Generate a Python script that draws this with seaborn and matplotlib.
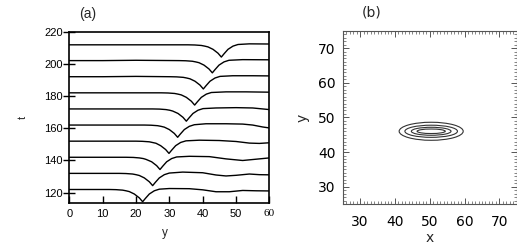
import numpy as np
import pandas as pd
import matplotlib
matplotlib.use("Agg")
import matplotlib.pyplot as plt
from matplotlib.patches import Ellipse
from matplotlib.ticker import MultipleLocator
import seaborn as sns

# ---- panel (a): wave profiles at successive times ----
y1 = [0, 10, 12, 14, 16, 17, 18, 19.5, 21, 22, 22.8, 24, 25.5, 27, 30, 36, 40, 44, 48, 52, 56, 60]
t1 = [122, 122, 122, 121.9, 121.6, 121.2, 120.7, 119.2, 116.8, 114.4, 116.4, 119.2, 121.2, 122.2, 122.6, 122.5, 121.8, 120.6, 120.6, 121.4, 121.2, 121.1]
y2 = [0, 10, 15, 17, 19, 20, 21, 22.5, 24, 25, 25.8, 27, 28.5, 30, 34, 40, 44, 47, 50, 54, 57, 60]
t2 = [132, 132, 132, 131.9, 131.6, 131.2, 130.7, 129.2, 126.8, 124.4, 126.4, 129.2, 131.2, 132.2, 132.8, 132.4, 131, 130.4, 130.8, 131.6, 131.2, 131.1]
y3 = [0, 10, 17, 19.2, 21, 22.2, 23, 24.7, 26.2, 27.2, 28, 29.2, 30.7, 32.2, 36, 42, 47, 52, 56, 60]
t3 = [142, 142, 142, 141.9, 141.6, 141.2, 140.7, 139.2, 136.8, 134.4, 136.4, 139.2, 141.2, 142.2, 142.6, 142.4, 141, 140, 140.8, 141.6]
y4 = [0, 10, 20, 21.9, 24, 24.9, 26, 27.4, 28.9, 29.9, 30.7, 31.9, 33.4, 35, 39, 45, 50, 54, 57, 60]
t4 = [152, 152, 152, 151.9, 151.6, 151.2, 150.7, 149.2, 146.8, 144.4, 146.4, 149.2, 151.2, 152.2, 152.6, 152.4, 151.8, 150.8, 150.6, 151]
y5 = [0, 10, 22.5, 24.5, 26.5, 27.5, 28.5, 30, 31.5, 32.5, 33.3, 34.5, 36, 37.5, 41, 47, 52, 55, 58, 60]
t5 = [162, 162, 162, 161.9, 161.6, 161.2, 160.7, 159.2, 156.8, 154.4, 156.4, 159.2, 161.2, 162.2, 162.8, 162.8, 162.6, 162, 160.8, 160.2]
y6 = [0, 10, 25, 27.1, 29, 30.1, 31, 32.6, 34.1, 35.1, 35.9, 37.1, 38.6, 40.1, 44, 50, 55, 58, 60]
t6 = [172, 172, 172, 171.9, 171.6, 171.2, 170.7, 169.2, 166.8, 164.4, 166.4, 169.2, 171.2, 172.2, 172.6, 172.8, 172.6, 172, 171.6]
y7 = [0, 10, 27.6, 29.6, 31.6, 32.6, 33.6, 35.1, 36.6, 37.6, 38.4, 39.6, 41.1, 42.6, 47, 53, 60]
t7 = [182, 182, 182, 181.9, 181.6, 181.2, 180.7, 179.2, 176.8, 174.4, 176.4, 179.2, 181.2, 182.2, 182.6, 182.6, 182.4]
y8 = [0, 10, 20, 30.2, 32.2, 34.2, 35.2, 36.2, 37.7, 39.2, 40.2, 41, 42.2, 43.7, 45.2, 49, 55, 60]
t8 = [192, 192, 192.2, 192, 191.9, 191.6, 191.2, 190.7, 189.2, 186.8, 184.4, 186.4, 189.2, 191.2, 192.2, 192.6, 192.6, 192.5]
y9 = [0, 10, 20, 32.9, 34.9, 36.9, 37.9, 38.9, 40.4, 41.9, 42.9, 43.7, 44.9, 46.4, 47.9, 52, 60]
t9 = [202, 202, 202.2, 202, 201.9, 201.6, 201.2, 200.7, 199.2, 196.8, 194.4, 196.4, 199.2, 201.2, 202.2, 202.6, 202.5]
y10 = [0, 10, 20, 35.6, 37.6, 39.6, 40.6, 41.6, 43.1, 44.6, 45.6, 46.4, 47.6, 49.1, 50.6, 54, 60]
t10 = [211.8, 211.8, 211.8, 211.8, 211.7, 211.4, 211.0, 210.5, 209, 206.6, 204.2, 206.2, 209, 211, 212, 212.4, 212.3]

a_xticks = [0, 10, 20, 30, 40, 50, 60]
a_yticks = [120, 140, 160, 180, 200, 220]

# ---- panel (b): contour rings (centre, full widths, full heights) ----
ring_cx, ring_cy = 50.4, 46.0
ring_w = [18.4, 15.1, 11.4, 8.1]
ring_h = [5.2, 3.5, 2.3, 1.3]
b_ticks = [30, 40, 50, 60, 70]

curves = [(y1, t1), (y2, t2), (y3, t3), (y4, t4), (y5, t5),
          (y6, t6), (y7, t7), (y8, t8), (y9, t9), (y10, t10)]
df = pd.concat([pd.DataFrame({"y": yy, "t": tt, "curve": i})
                for i, (yy, tt) in enumerate(curves)], ignore_index=True)

sns.set_style("white")
plt.rcParams['font.family'] = ['Liberation Sans', 'DejaVu Sans']

fig = plt.figure(figsize=(5.17, 2.45), dpi=100)
ax1 = fig.add_axes([0.134, 0.170, 0.387, 0.701])
ax2 = fig.add_axes([0.663, 0.167, 0.3366, 0.7076])

# panel (a)
sns.lineplot(data=df, x="y", y="t", units="curve", estimator=None, sort=False,
             color="black", lw=1.0, ax=ax1, legend=False)
ax1.set_xlim(0, 60)
ax1.set_ylim(113.4, 220)
ax1.set_xticks(a_xticks)
ax1.set_yticks(a_yticks)
ax1.tick_params(axis="y", direction="inout", length=9, width=1, pad=0,
                labelsize=8, left=True, colors="black")
ax1.tick_params(axis="x", direction="in", length=5, width=1, pad=4,
                labelsize=8, bottom=True, colors="black")
labs = ax1.get_xticklabels()
labs[-1].set_fontfamily("Liberation Serif")
for sp in ax1.spines.values():
    sp.set_visible(True)
    sp.set_color("black")
    sp.set_linewidth(1.2)
ax1.set_xlabel("y", fontsize=8.5)
ax1.set_ylabel("t", fontsize=8, labelpad=12)
ax1.xaxis.set_label_coords(0.48, -0.135)

# panel (b)
for w, h in zip(ring_w, ring_h):
    ax2.add_patch(Ellipse((ring_cx, ring_cy), w, h, fill=False,
                          edgecolor="#333333", lw=0.8))
ax2.set_xlim(25, 75)
ax2.set_ylim(25, 75)
ax2.set_xticks(b_ticks)
ax2.set_yticks(b_ticks)
ax2.xaxis.set_minor_locator(MultipleLocator(1))
ax2.yaxis.set_minor_locator(MultipleLocator(1))
ax2.tick_params(which="major", direction="in", length=4, width=0.7,
                top=True, right=True, bottom=True, left=True,
                colors="#555555", labelcolor="black", labelsize=10)
ax2.tick_params(which="minor", direction="in", length=2, width=0.5,
                top=True, right=True, bottom=True, left=True, colors="#555555")
ax2.tick_params(axis="x", pad=8)
ax2.tick_params(axis="y", pad=5)
for lab in ax2.get_xticklabels() + ax2.get_yticklabels():
    lab.set_fontfamily("DejaVu Sans")
for sp in ax2.spines.values():
    sp.set_visible(True)
    sp.set_color("#555555")
    sp.set_linewidth(0.8)
ax2.set_xlabel("x", fontsize=10, family="DejaVu Sans", labelpad=1)
ax2.set_ylabel("y", fontsize=10, family="DejaVu Sans", labelpad=6)

fig.text(88 / 517, 1 - 14 / 245, "(a)", ha="center", va="center", fontsize=10)
fig.text(372 / 517, 1 - 12 / 245, "(b)", ha="center", va="center", fontsize=10,
         family="DejaVu Sans")

fig.savefig("out.png", dpi=100)
